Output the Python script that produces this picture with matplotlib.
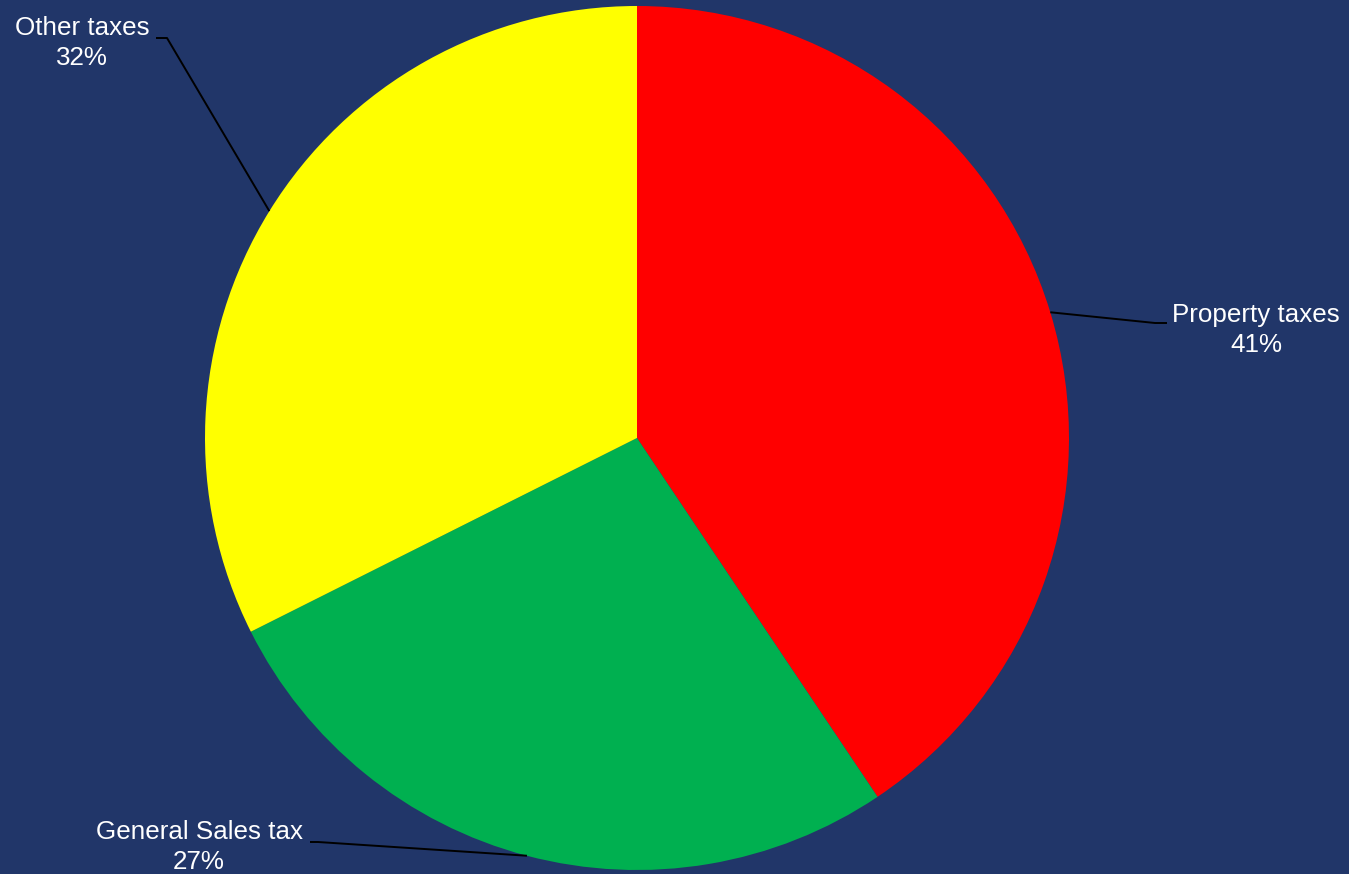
import numpy as np
import matplotlib
matplotlib.use('Agg')
import matplotlib.pyplot as plt

labels = ['Property taxes', 'General Sales tax', 'Other taxes']
shares = [40.6, 27.0, 32.4]
colors = ['#FF0000', '#00B050', '#FFFF00']

W, H = 1349, 874
bg = '#213669'

fig = plt.figure(figsize=(W / 100, H / 100), dpi=100, facecolor=bg)
ax = fig.add_axes([0, 0, 1, 1], facecolor=bg)

cx, cy, r = 637, H - 438, 432
wedges, _ = ax.pie(shares, colors=colors, startangle=90, counterclock=False,
                   center=(cx, cy), radius=r, frame=True,
                   wedgeprops=dict(linewidth=0))

# label block centre, elbow point, line end (pixel coords, y down)
label_pos = {
    'Property taxes': ((1256, 330), (1155, 323), (1167, 323)),
    'General Sales tax': ((199, 847), (318, 842), (310, 842)),
    'Other taxes': ((82, 43), (167, 38), (156, 38)),
}

total = sum(shares)
for w, name, s in zip(wedges, labels, shares):
    mid = np.deg2rad((w.theta1 + w.theta2) / 2)
    ax_x = cx + r * np.cos(mid)
    ax_y = cy + r * np.sin(mid)
    (tx, ty), (ex, ey), (lx, ly) = label_pos[name]
    ax.plot([ax_x, ex, lx], [ax_y, H - ey, H - ly], color='black', lw=1.4,
            solid_capstyle='butt')
    ax.text(tx, H - ty, f'{name}\n{round(s / total * 100)}%', ha='center',
            va='center', multialignment='center', color='white',
            fontsize=18.7, family='Liberation Sans', linespacing=1.3)

ax.set_xlim(0, W)
ax.set_ylim(0, H)
ax.set_aspect('auto')
ax.axis('off')

fig.savefig('out.png', dpi=100, facecolor=bg)
